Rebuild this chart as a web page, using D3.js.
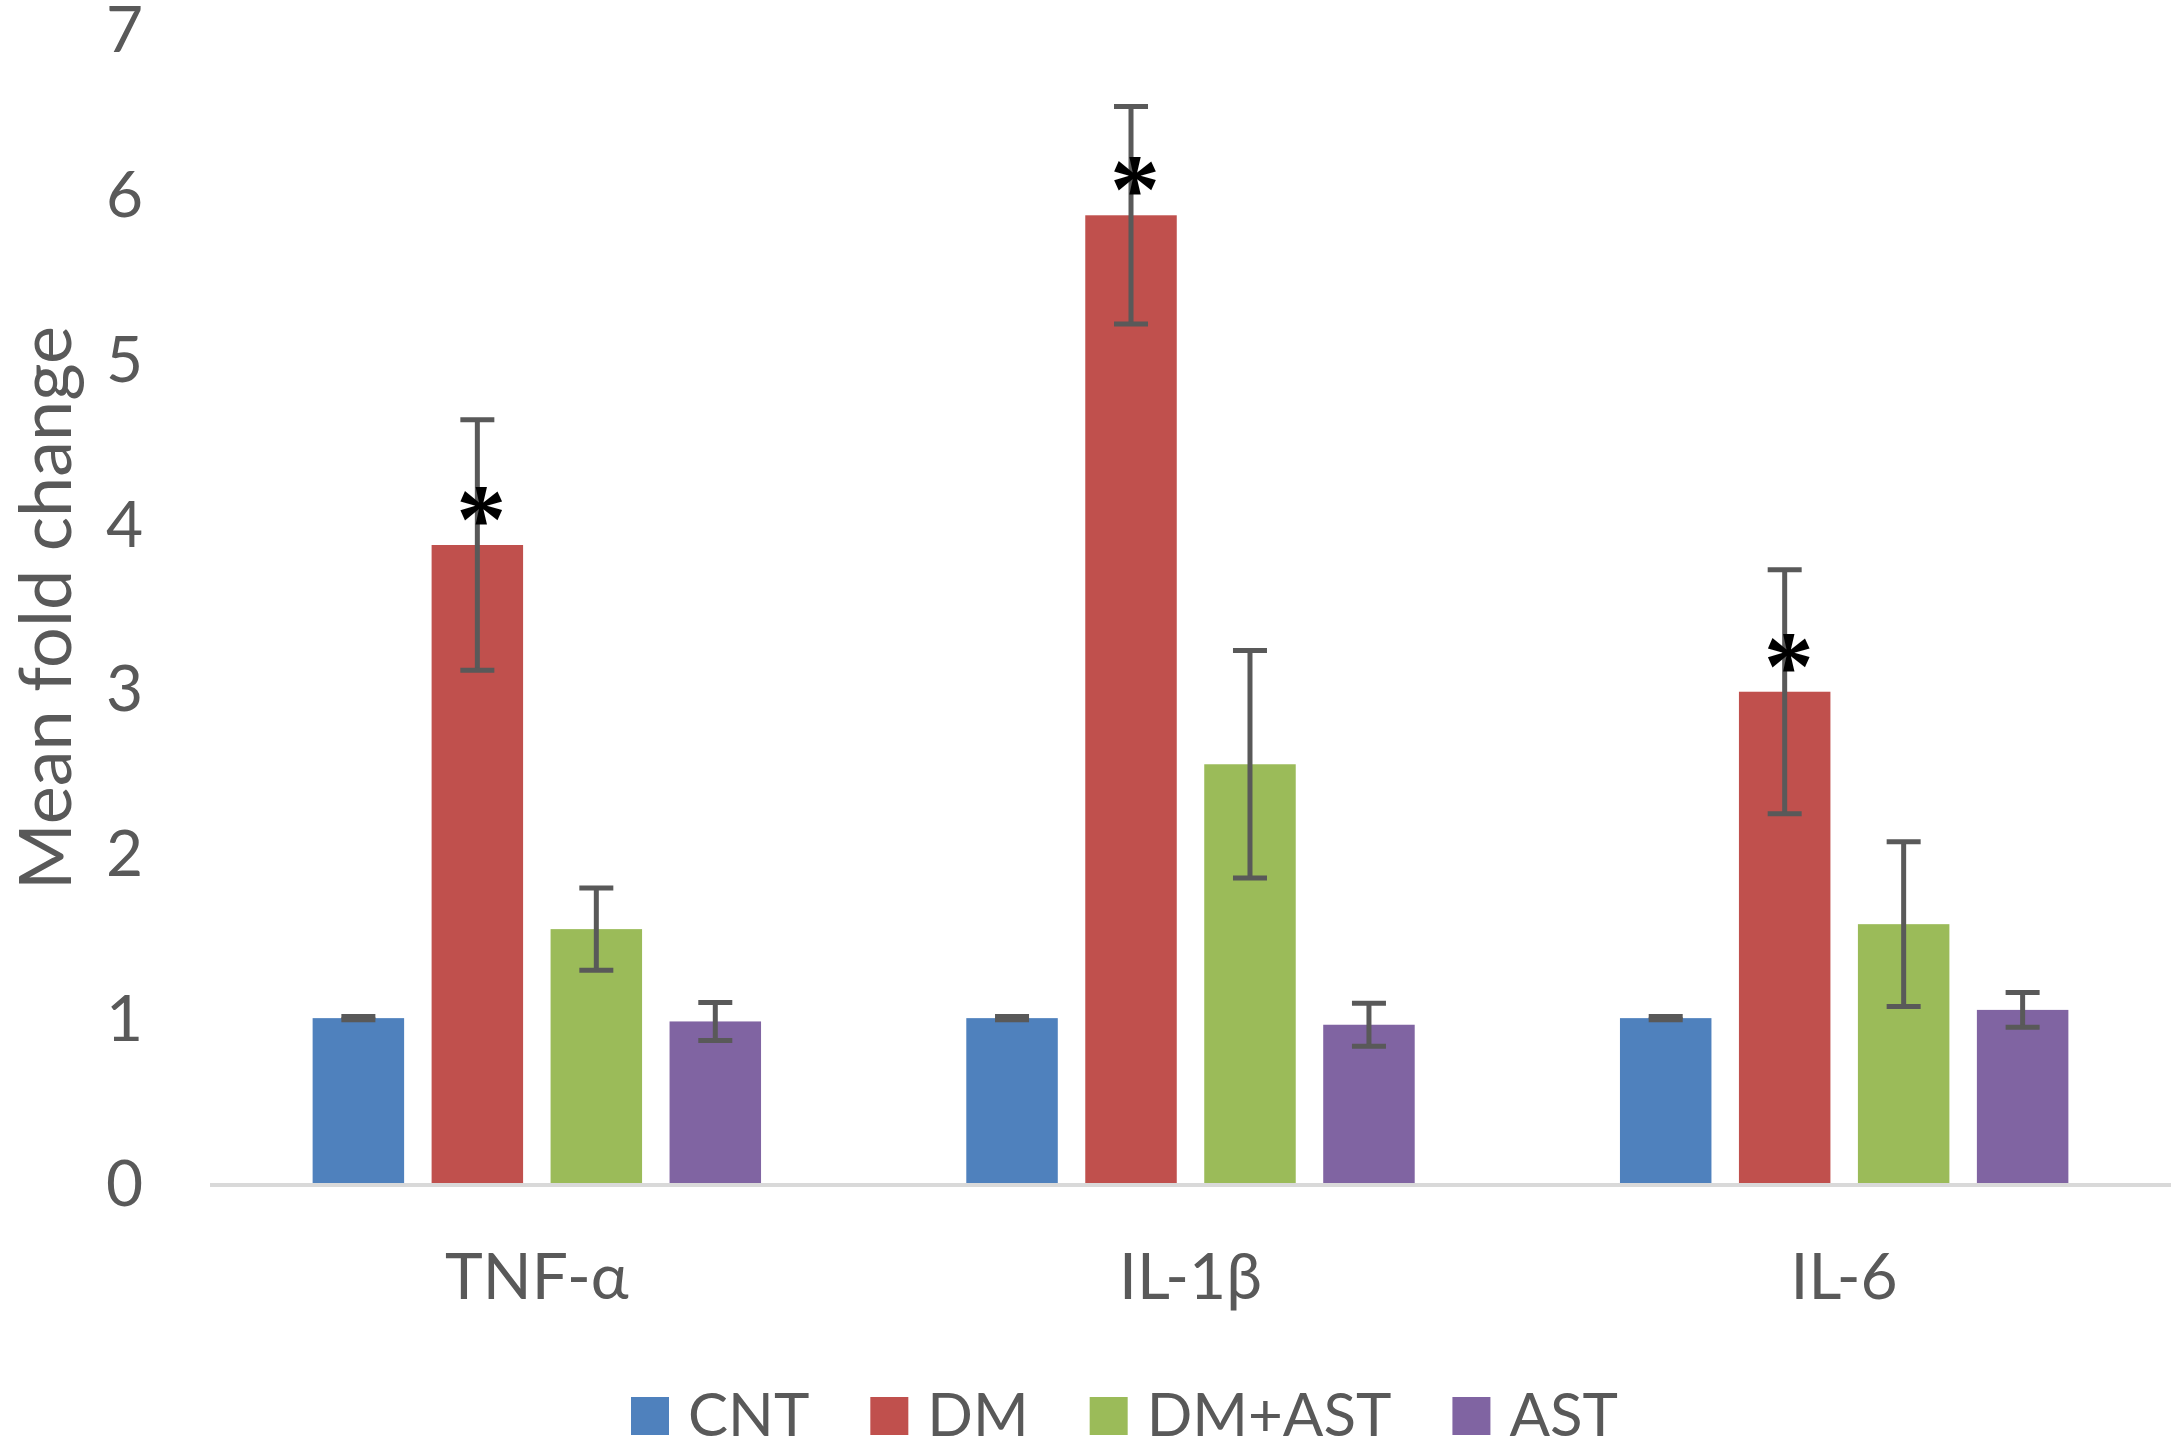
<!DOCTYPE html>
<html>
<head>
<meta charset="utf-8">
<script src="https://cdn.jsdelivr.net/npm/d3@7"></script>
<style>
  body { margin: 0; background: #fff; }
  svg { display: block; font-family: Lato, "Open Sans", sans-serif; }
</style>
</head>
<body>
<div id="chart"></div>
<script>
const categories = ['TNF-α', 'IL-1β', 'IL-6'];
const groups = ['CNT', 'DM', 'DM+AST', 'AST'];

const cntValues = [1.0, 1.0, 1.0];
const cntErrors = [0.01, 0.01, 0.01];
const dmValues = [3.87, 5.87, 2.98];
const dmErrors = [0.76, 0.66, 0.74];
const dmAstValues = [1.54, 2.54, 1.57];
const dmAstErrors = [0.25, 0.69, 0.50];
const astValues = [0.98, 0.96, 1.05];
const astErrors = [0.115, 0.13, 0.105];

// which bars carry a significance star
const starred = [
  { category: 'TNF-α', group: 'DM' },
  { category: 'IL-1β', group: 'DM' },
  { category: 'IL-6', group: 'DM' },
];

const yTicks = [0, 1, 2, 3, 4, 5, 6, 7];
const yLabel = 'Mean fold change';

const colors = {
  'CNT': '#4f81bd',
  'DM': '#c0504d',
  'DM+AST': '#9bbb59',
  'AST': '#8064a2',
};

const seriesValues = {
  'CNT': [cntValues, cntErrors],
  'DM': [dmValues, dmErrors],
  'DM+AST': [dmAstValues, dmAstErrors],
  'AST': [astValues, astErrors],
};

const rows = [];
categories.forEach((category, i) => {
  groups.forEach(group => {
    const [values, errors] = seriesValues[group];
    rows.push({ category, group, value: values[i], error: errors[i] });
  });
});

const width = 2174;
const height = 1448;
const plot = { left: 210, right: 2171, top: 29, bottom: 1183 };
const textColor = '#595959';

const svg = d3.select('#chart').append('svg')
  .attr('width', width)
  .attr('height', height)
  .attr('viewBox', `0 0 ${width} ${height}`);

svg.append('rect').attr('width', width).attr('height', height).attr('fill', '#fff');

const x0 = d3.scaleBand()
  .domain(categories)
  .range([plot.left, plot.right])
  .paddingInner(0.314)
  .paddingOuter(0.157);

const x1 = d3.scaleBand()
  .domain(groups)
  .range([0, x0.bandwidth()])
  .paddingInner(0.231)
  .paddingOuter(0);

const y = d3.scaleLinear()
  .domain([0, 7])
  .range([plot.bottom, plot.top]);

// y tick labels (no axis line, no gridlines)
svg.append('g')
  .selectAll('text')
  .data(yTicks)
  .join('text')
  .attr('x', 143)
  .attr('y', d => y(d))
  .attr('dy', '0.36em')
  .attr('text-anchor', 'end')
  .attr('fill', textColor)
  .style('font-size', '64px')
  .text(d => d);

// bars
svg.append('g')
  .selectAll('rect')
  .data(rows)
  .join('rect')
  .attr('x', d => x0(d.category) + x1(d.group))
  .attr('y', d => y(d.value))
  .attr('width', x1.bandwidth())
  .attr('height', d => y(0) - y(d.value))
  .attr('fill', d => colors[d.group]);

// x axis line
svg.append('line')
  .attr('x1', plot.left)
  .attr('x2', plot.right)
  .attr('y1', y(0) + 2)
  .attr('y2', y(0) + 2)
  .attr('stroke', '#d9d9d9')
  .attr('stroke-width', 4);

// error bars
const capHalf = 17;
const err = svg.append('g')
  .attr('stroke', '#595959')
  .attr('stroke-width', 5)
  .selectAll('g')
  .data(rows)
  .join('g')
  .attr('transform', d => `translate(${x0(d.category) + x1(d.group) + x1.bandwidth() / 2},0)`);

err.append('line')
  .attr('y1', d => y(d.value - d.error))
  .attr('y2', d => y(d.value + d.error));
err.append('line')
  .attr('x1', -capHalf).attr('x2', capHalf)
  .attr('y1', d => y(d.value + d.error))
  .attr('y2', d => y(d.value + d.error));
err.append('line')
  .attr('x1', -capHalf).attr('x2', capHalf)
  .attr('y1', d => y(d.value - d.error))
  .attr('y2', d => y(d.value - d.error));

// significance stars
const valueOf = (cat, grp) => rows.find(r => r.category === cat && r.group === grp).value;
svg.append('g')
  .selectAll('text')
  .data(starred)
  .join('text')
  .attr('x', d => x0(d.category) + x1(d.group) + x1.bandwidth() / 2 + 4)
  .attr('y', d => y(valueOf(d.category, d.group)) - 39)
  .attr('dy', '0.46em')
  .attr('text-anchor', 'middle')
  .attr('fill', '#000')
  .style('font-family', '"Liberation Serif", serif')
  .style('font-weight', 'bold')
  .style('font-size', '100px')
  .text('*');

// category labels
svg.append('g')
  .selectAll('text')
  .data(categories)
  .join('text')
  .attr('x', d => x0(d) + x0.bandwidth() / 2)
  .attr('y', 1299)
  .attr('text-anchor', 'middle')
  .attr('fill', textColor)
  .style('font-size', '64px')
  .text(d => d);

// y axis title
svg.append('text')
  .attr('transform', 'translate(71,608) rotate(-90)')
  .attr('text-anchor', 'middle')
  .attr('fill', textColor)
  .style('font-size', '72px')
  .text(yLabel);

// legend
const legend = svg.append('g').attr('class', 'legend');
let lx = 631;
groups.forEach(group => {
  legend.append('rect')
    .attr('x', lx)
    .attr('y', 1397)
    .attr('width', 38)
    .attr('height', 38)
    .attr('fill', colors[group]);
  const t = legend.append('text')
    .attr('x', lx + 38 + 19)
    .attr('y', 1436)
    .attr('fill', textColor)
    .style('font-size', '60px')
    .text(group);
  lx += 38 + 19 + t.node().getComputedTextLength() + 61;
});
</script>
</body>
</html>
